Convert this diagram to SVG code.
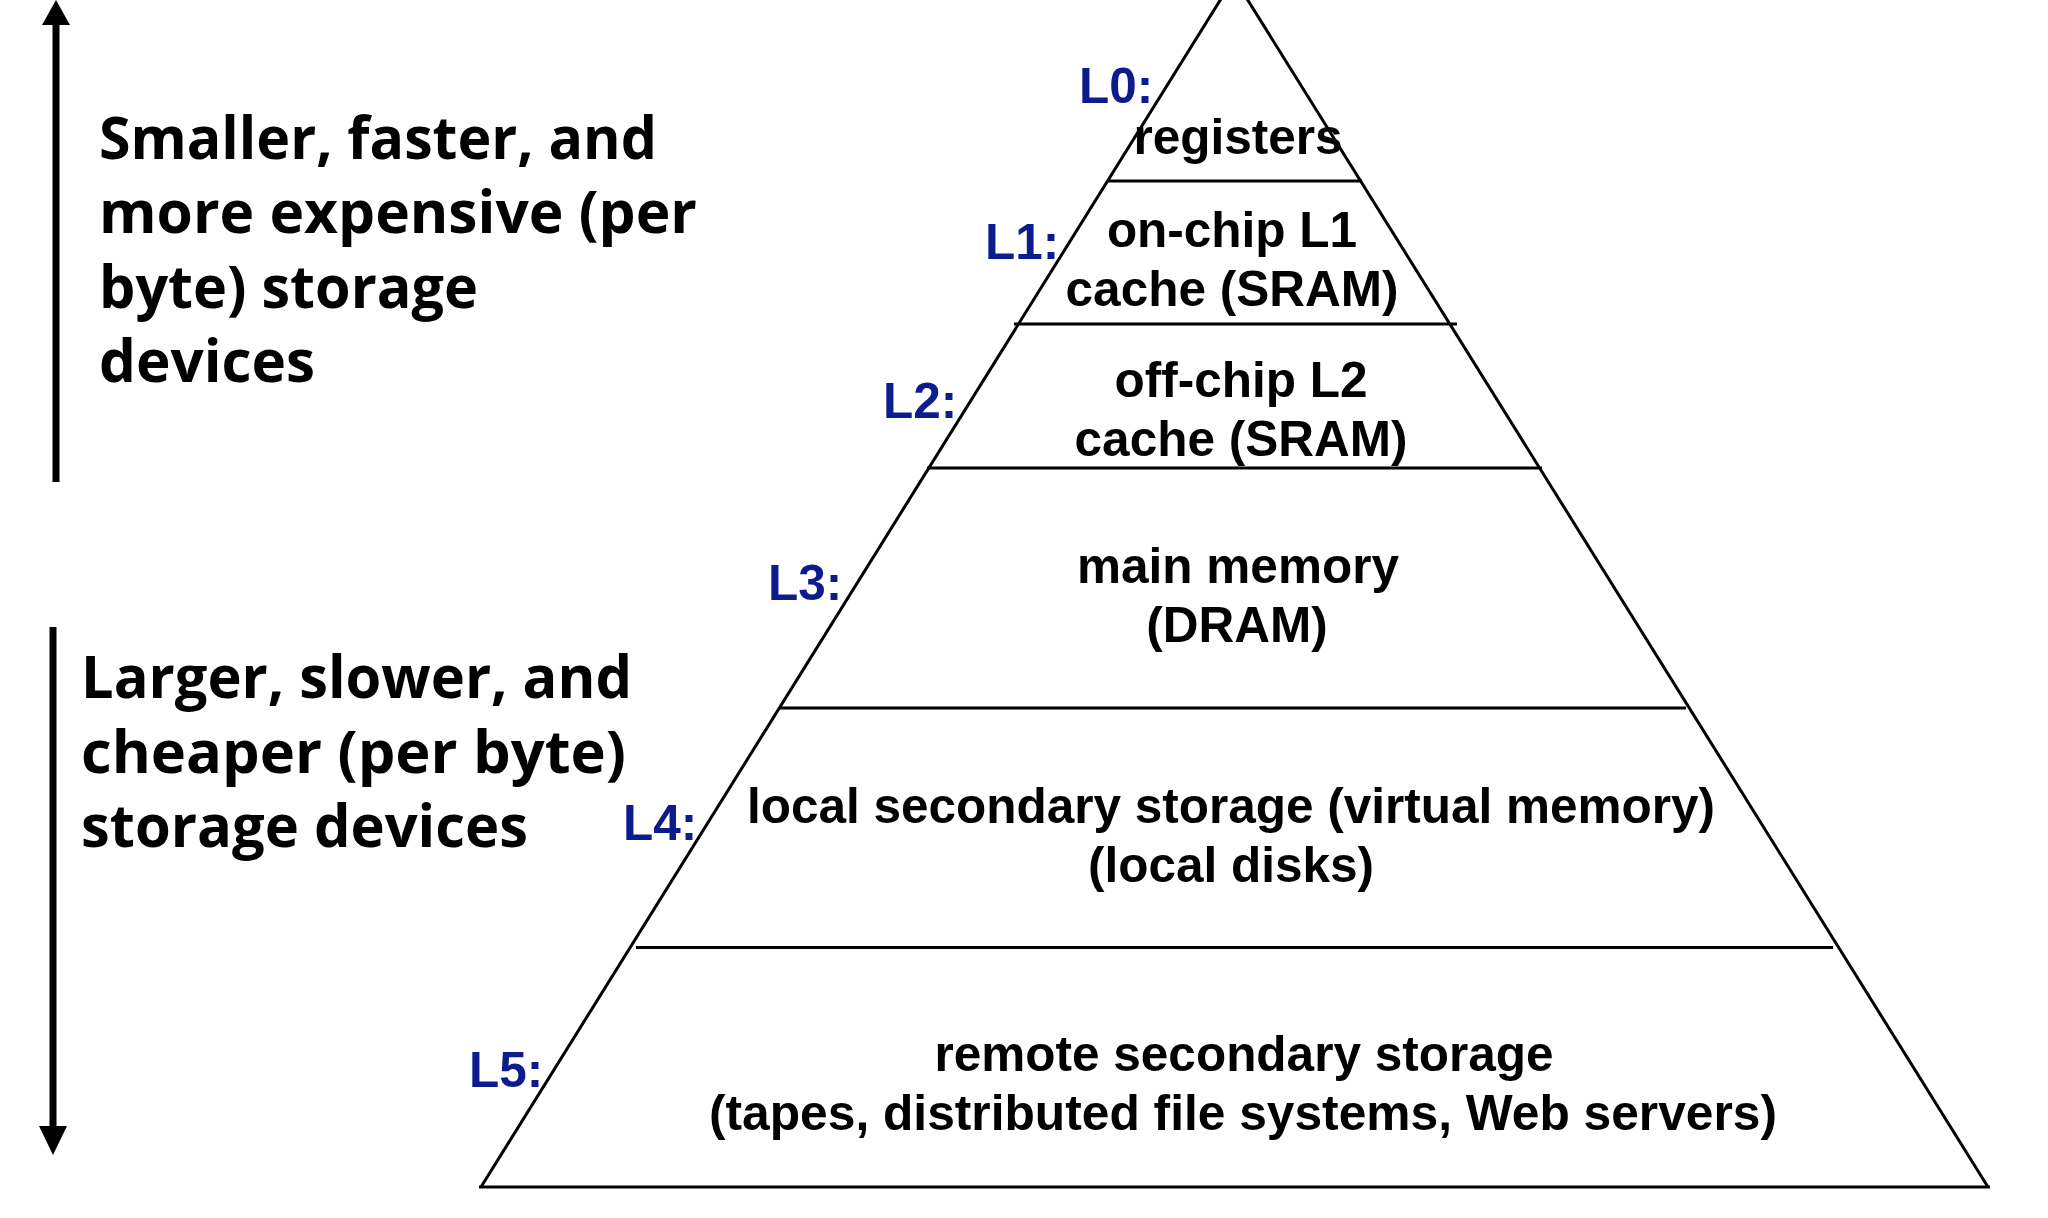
<svg xmlns="http://www.w3.org/2000/svg" width="2048" height="1218" viewBox="0 0 2048 1218">
<style>
  .lvl { font-family: "Liberation Sans", Arial, sans-serif; font-weight: bold; font-size: 49.5px; fill: #000; text-anchor: middle; }
  .tag { font-family: "Liberation Sans", Arial, sans-serif; font-weight: bold; font-size: 49.5px; fill: #0c1c8c; }
  .side { font-family: "Open Sans", "DejaVu Sans", sans-serif; font-weight: 700; font-size: 59px; fill: #000; }
  .edge { stroke: #000; stroke-width: 3; fill: none; }
  .arrow { stroke: #000; stroke-width: 7; fill: none; }
</style>
<rect width="2048" height="1218" fill="#fff"/>

<g id="pyramid">
  <polyline class="edge" points="481,1187 1234,-22 1988,1187"/>
</g>

<g id="connectors">
  <line class="edge" x1="1107" y1="181" x2="1362" y2="181"/>
  <line class="edge" x1="1014" y1="324" x2="1457" y2="324"/>
  <line class="edge" x1="927" y1="468" x2="1542" y2="468"/>
  <line class="edge" x1="779" y1="708" x2="1686" y2="708"/>
  <line class="edge" x1="636" y1="947.5" x2="1833" y2="947.5"/>
  <line class="edge" x1="479" y1="1187" x2="1990" y2="1187"/>
  <g id="arrow-up">
    <line class="arrow" x1="56" y1="482" x2="56" y2="22"/>
    <polygon points="56,0 42,25 70,25" fill="#000"/>
  </g>
  <g id="arrow-down">
    <line class="arrow" x1="53" y1="627" x2="53" y2="1130"/>
    <polygon points="53,1155 39,1126 67,1126" fill="#000"/>
  </g>
</g>

<g id="L0">
  <text class="tag" x="1079" y="103">L0:</text>
  <text class="lvl" x="1238" y="154">registers</text>
</g>
<g id="L1">
  <text class="tag" x="985" y="259">L1:</text>
  <text class="lvl" x="1232" y="247">on-chip L1</text>
  <text class="lvl" x="1232" y="306">cache (SRAM)</text>
</g>
<g id="L2">
  <text class="tag" x="883" y="418">L2:</text>
  <text class="lvl" x="1241" y="397">off-chip L2</text>
  <text class="lvl" x="1241" y="456">cache (SRAM)</text>
</g>
<g id="L3">
  <text class="tag" x="768" y="600">L3:</text>
  <text class="lvl" x="1238" y="583">main memory</text>
  <text class="lvl" x="1237" y="642">(DRAM)</text>
</g>
<g id="L4">
  <text class="tag" x="623" y="840">L4:</text>
  <text class="lvl" x="1231" y="823" textLength="968" lengthAdjust="spacingAndGlyphs">local secondary storage (virtual memory)</text>
  <text class="lvl" x="1231" y="882">(local disks)</text>
</g>
<g id="L5">
  <text class="tag" x="469" y="1087">L5:</text>
  <text class="lvl" x="1244" y="1071">remote secondary storage</text>
  <text class="lvl" x="1243" y="1130" textLength="1068" lengthAdjust="spacingAndGlyphs">(tapes, distributed file systems, Web servers)</text>
</g>

<g id="note-top">
  <text class="side" x="99" y="159" textLength="558" lengthAdjust="spacingAndGlyphs">Smaller, faster, and</text>
  <text class="side" x="99" y="233" textLength="598" lengthAdjust="spacingAndGlyphs">more expensive (per</text>
  <text class="side" x="99" y="308" textLength="379" lengthAdjust="spacingAndGlyphs">byte) storage</text>
  <text class="side" x="99" y="382" textLength="216" lengthAdjust="spacingAndGlyphs">devices</text>
</g>
<g id="note-bottom">
  <text class="side" x="81" y="698" textLength="551" lengthAdjust="spacingAndGlyphs">Larger, slower, and</text>
  <text class="side" x="81" y="773" textLength="545" lengthAdjust="spacingAndGlyphs">cheaper (per byte)</text>
  <text class="side" x="81" y="847" textLength="447" lengthAdjust="spacingAndGlyphs">storage devices</text>
</g>
</svg>
